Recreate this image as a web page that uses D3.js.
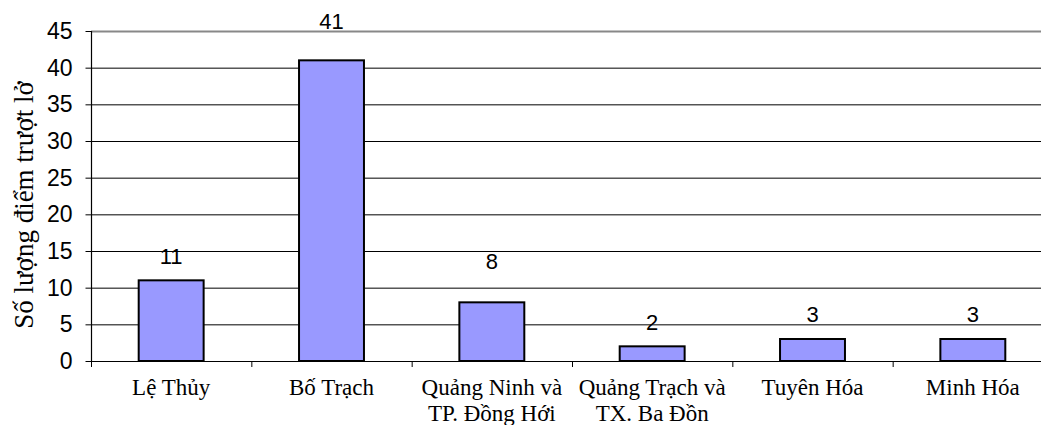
<!DOCTYPE html>
<html>
<head>
<meta charset="utf-8">
<script src="https://cdn.jsdelivr.net/npm/d3@7"></script>
<style>
  html, body { margin: 0; padding: 0; background: #fff; overflow: hidden; }
  svg { display: block; }
</style>
</head>
<body>
<svg id="chart" width="1041" height="425"></svg>
<script>
// Landslide points per district
const categories = [
  ["Lệ Thủy"],
  ["Bố Trạch"],
  ["Quảng Ninh và", "TP. Đồng Hới"],
  ["Quảng Trạch và", "TX. Ba Đồn"],
  ["Tuyên Hóa"],
  ["Minh Hóa"]
];
const values = [11, 41, 8, 2, 3, 3];
const yTicks = [0, 5, 10, 15, 20, 25, 30, 35, 40, 45];
const yTitle = "Số lượng điểm trượt lở";

// label lift above each bar (px)
const labelLift = [16, 31, 33, 16, 17, 17];

const svg = d3.select("#chart");
const plotLeft = 91, plotRight = 1053, plotTop = 31, plotBottom = 361;
const sans = "Liberation Sans, Arial, sans-serif";
const serif = "Liberation Serif, Times New Roman, serif";

const keys = categories.map(c => c.join(" "));
const x = d3.scaleBand().domain(keys).range([plotLeft, plotRight]).padding(0);
const y = d3.scaleLinear().domain([0, 45]).range([plotBottom, plotTop]);

// horizontal gridlines
svg.append("g").selectAll("line")
  .data(yTicks.filter(t => t > 0))
  .join("line")
  .attr("x1", plotLeft).attr("x2", plotRight)
  .attr("y1", d => y(d) + 0.5).attr("y2", d => y(d) + 0.5)
  .attr("stroke", d => d === 45 ? "#888" : "#000")
  .attr("stroke-width", d => d === 45 ? 2 : 1);

// y axis
const yAxis = svg.append("g")
  .attr("transform", `translate(${plotLeft + 0.5},0)`)
  .call(d3.axisLeft(y).tickValues(yTicks).tickSize(6).tickPadding(13));
yAxis.select(".domain").attr("stroke", "#000").attr("stroke-width", 1.2).attr("d", `M0,${plotBottom + 0.5}V${plotTop}`);
yAxis.selectAll(".tick line").attr("stroke", "#000");
yAxis.selectAll("text")
  .attr("font-family", sans)
  .attr("font-size", 23).attr("fill", "#000");

// bars
const bw = x.bandwidth() * 0.405;
svg.append("g").selectAll("rect")
  .data(values)
  .join("rect")
  .attr("x", (d, i) => x(keys[i]) + (x.bandwidth() - bw) / 2)
  .attr("y", d => y(d))
  .attr("width", bw)
  .attr("height", d => y(0) - y(d))
  .attr("fill", "#9999FF")
  .attr("stroke", "#000")
  .attr("stroke-width", 2);

// x axis baseline and tick marks at category boundaries
svg.append("line")
  .attr("x1", plotLeft).attr("x2", plotRight)
  .attr("y1", plotBottom + 0.5).attr("y2", plotBottom + 0.5)
  .attr("stroke", "#000").attr("stroke-width", 1.2);
svg.append("g").selectAll("line")
  .data(keys.map(k => x(k)).concat([x(keys[keys.length - 1]) + x.bandwidth()]))
  .join("line")
  .attr("x1", d => d + 0.5).attr("x2", d => d + 0.5)
  .attr("y1", plotBottom).attr("y2", plotBottom + 6)
  .attr("stroke", "#000");

// category labels
svg.append("g").selectAll("text")
  .data(categories)
  .join("text")
  .attr("text-anchor", "middle")
  .attr("font-family", serif)
  .attr("font-size", 23)
  .attr("fill", "#000")
  .each(function (lines, i) {
    const t = d3.select(this);
    lines.forEach((ln, j) => {
      t.append("tspan")
        .attr("x", x(keys[i]) + x.bandwidth() / 2)
        .attr("y", 395 + j * 26)
        .text(ln);
    });
  });

// value labels
svg.append("g").selectAll("text")
  .data(values)
  .join("text")
  .attr("x", (d, i) => x(keys[i]) + x.bandwidth() / 2)
  .attr("y", (d, i) => y(d) - labelLift[i])
  .attr("text-anchor", "middle")
  .attr("font-family", sans)
  .attr("font-size", 22)
  .attr("fill", "#000")
  .text(d => d);

// y axis title
svg.append("text")
  .attr("transform", "translate(33,205) rotate(-90)")
  .attr("text-anchor", "middle")
  .attr("font-family", serif)
  .attr("font-size", 27)
  .attr("fill", "#000")
  .text(yTitle);
</script>
</body>
</html>
